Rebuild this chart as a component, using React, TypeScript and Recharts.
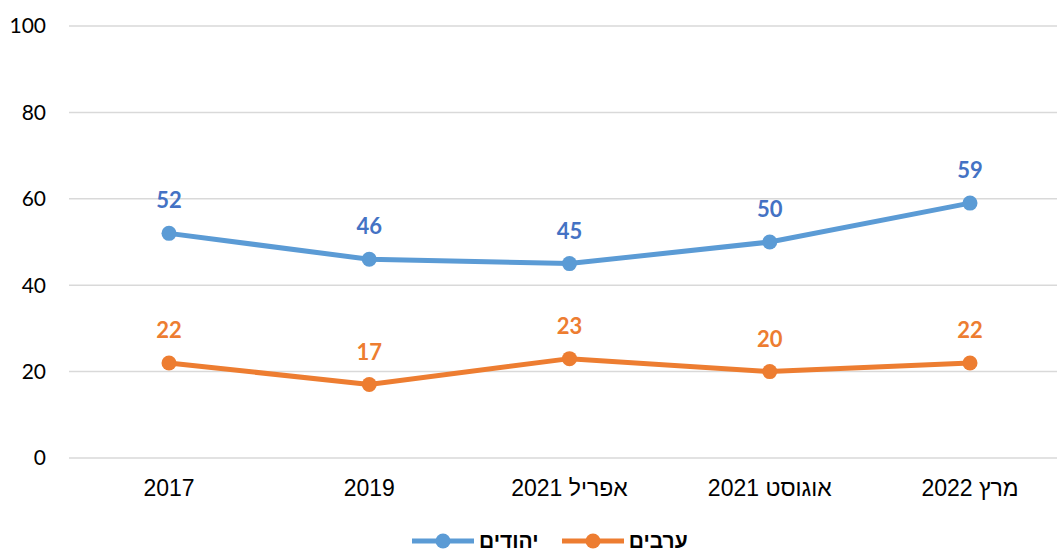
import React from "react";
import { LineChart, Line, XAxis, YAxis, CartesianGrid, LabelList } from "recharts";

const categories = ["2017", "2019", "אפריל 2021", "אוגוסט 2021", "מרץ 2022"];
const jewsValues = [52, 46, 45, 50, 59];
const arabsValues = [22, 17, 23, 20, 22];
const yTicks = [0, 20, 40, 60, 80, 100];
const seriesNames = { jews: "יהודים", arabs: "ערבים" };

const BLUE_LINE = "#5B9BD5";
const BLUE_LABEL = "#4472C4";
const ORANGE = "#ED7D31";

const data = categories.map((c, i) => ({ cat: c, jews: jewsValues[i], arabs: arabsValues[i] }));

const XTick = (props: any) => {
  const { x, y, payload } = props;
  return (
    <text
      x={x}
      y={y + 38}
      textAnchor="middle"
      direction="rtl"
      style={{ fontFamily: "'Liberation Sans', Arial, sans-serif", fontSize: 23, fill: "#000" }}
    >
      {payload.value}
    </text>
  );
};

const LegendIcon = ({ color }: { color: string }) => (
  <svg width={62} height={16} style={{ display: "block" }}>
    <line x1={0} y1={8} x2={62} y2={8} stroke={color} strokeWidth={5} />
    <circle cx={31} cy={8} r={7.5} fill={color} />
  </svg>
);

export default function App() {
  return (
    <div style={{ position: "absolute", left: 0, top: 0, width: 1057, height: 553, overflow: "hidden", background: "#fff" }}>
      <LineChart width={1057} height={553} data={data} margin={{ top: 26, right: 0, left: 0, bottom: 65 }}>
        <CartesianGrid vertical={false} stroke="#d9d9d9" strokeWidth={1.5} />
        <XAxis
          dataKey="cat"
          axisLine={false}
          tickLine={false}
          tickSize={0}
          tickMargin={0}
          height={30}
          padding={{ left: 100, right: 87 }}
          tick={<XTick />}
          interval={0}
        />
        <YAxis
          domain={[0, 100]}
          ticks={yTicks}
          width={69}
          axisLine={false}
          tickLine={false}
          tickSize={0}
          tickMargin={23}
          tick={{ fontFamily: "Lato, sans-serif", fontSize: 21, fill: "#000" }}
        />
        <Line
          dataKey="jews"
          stroke={BLUE_LINE}
          strokeWidth={5}
          dot={{ r: 7.5, fill: BLUE_LINE, stroke: BLUE_LINE, strokeWidth: 0 }}
          activeDot={false}
          isAnimationActive={false}
        >
          <LabelList dataKey="jews" position="top" offset={25} fill={BLUE_LABEL} fontFamily="Lato, sans-serif" fontSize={22} fontWeight="bold" />
        </Line>
        <Line
          dataKey="arabs"
          stroke={ORANGE}
          strokeWidth={5}
          dot={{ r: 7.5, fill: ORANGE, stroke: ORANGE, strokeWidth: 0 }}
          activeDot={false}
          isAnimationActive={false}
        >
          <LabelList dataKey="arabs" position="top" offset={25} fill={ORANGE} fontFamily="Lato, sans-serif" fontSize={22} fontWeight="bold" />
        </Line>
      </LineChart>
      <div
        style={{
          position: "absolute",
          left: 412,
          top: 530,
          display: "flex",
          alignItems: "center",
          fontFamily: "'Liberation Sans', Arial, sans-serif",
          fontWeight: "bold",
          fontSize: 21,
          lineHeight: "22px",
          color: "#000",
        }}
      >
        <LegendIcon color={BLUE_LINE} />
        <span style={{ marginLeft: 5, marginRight: 23 }}>{seriesNames.jews}</span>
        <LegendIcon color={ORANGE} />
        <span style={{ marginLeft: 5 }}>{seriesNames.arabs}</span>
      </div>
    </div>
  );
}
